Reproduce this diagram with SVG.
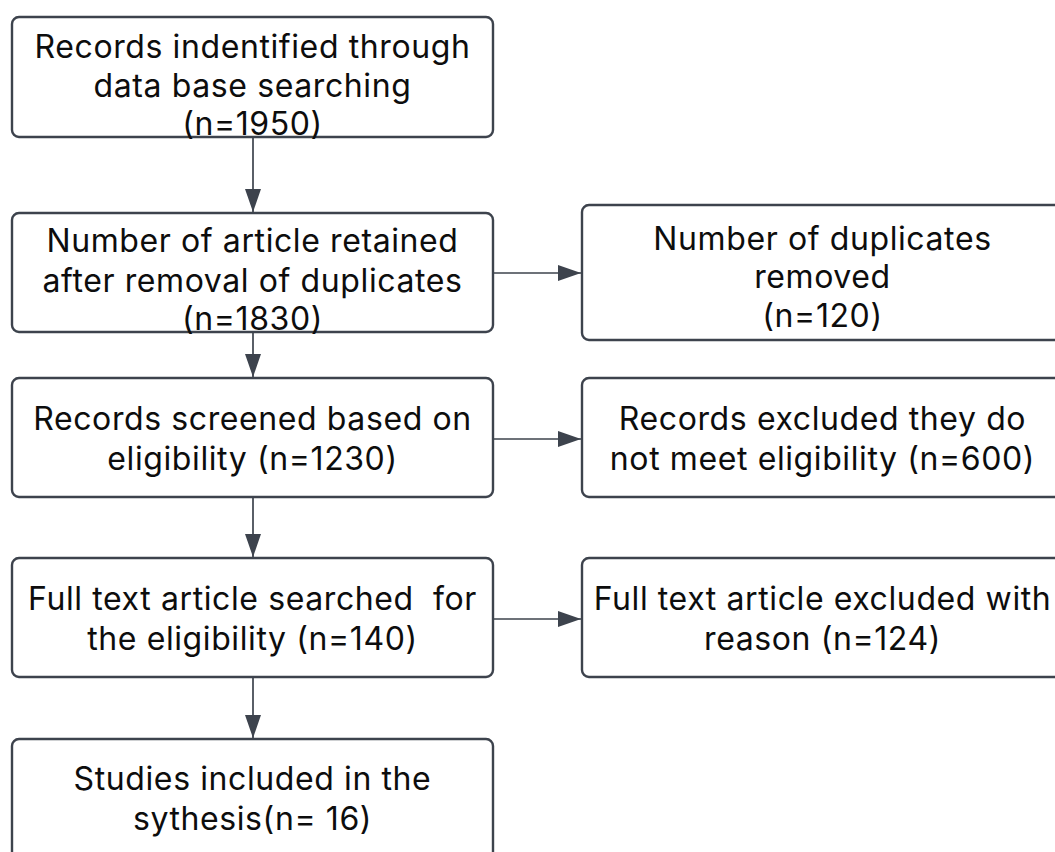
<svg xmlns="http://www.w3.org/2000/svg" width="1055" height="852" viewBox="0 0 1055 852">
<defs>
<marker id="ah" viewBox="0 0 23 16" refX="23" refY="8" markerWidth="23" markerHeight="16" markerUnits="userSpaceOnUse" orient="auto">
<path d="M0,0 L23,8 L0,16 z" fill="#3d434d"/>
</marker>
<style>
.box{fill:#ffffff;stroke:#3d434d;stroke-width:2.4}
.t{font-family:Inter,"Noto Sans","Liberation Sans",sans-serif;font-size:32px;letter-spacing:0.6px;fill:#0d0d0d;text-anchor:middle;white-space:pre}
.c{stroke:#3d434d;stroke-width:1.7;fill:none}
</style>
</defs>
<rect width="1055" height="852" fill="#ffffff"/>
<g id="n1"><rect class="box" x="12" y="17" width="481" height="120" rx="7"/>
<text class="t" x="252.5" y="58">Records indentified through</text>
<text class="t" x="252.5" y="97">data base searching</text>
<text class="t" x="252.5" y="135">(n=1950)</text></g>
<g id="n2"><rect class="box" x="12" y="213" width="481" height="119" rx="7"/>
<text class="t" x="252.5" y="252">Number of article retained</text>
<text class="t" x="252.5" y="292">after removal of duplicates</text>
<text class="t" x="252.5" y="330">(n=1830)</text></g>
<g id="n3"><rect class="box" x="582" y="205" width="481" height="135" rx="7"/>
<text class="t" x="822.5" y="250">Number of duplicates</text>
<text class="t" x="822.5" y="288">removed</text>
<text class="t" x="822.5" y="327">(n=120)</text></g>
<g id="n4"><rect class="box" x="12" y="378" width="481" height="119" rx="7"/>
<text class="t" x="252.5" y="430">Records screened based on</text>
<text class="t" x="252.5" y="470">eligibility (n=1230)</text></g>
<g id="n5"><rect class="box" x="582" y="378" width="481" height="119" rx="7"/>
<text class="t" x="822.5" y="430">Records excluded they do</text>
<text class="t" x="822.5" y="470">not meet eligibility (n=600)</text></g>
<g id="n6"><rect class="box" x="12" y="558" width="481" height="119" rx="7"/>
<text class="t" x="252.5" y="610">Full text article searched  for</text>
<text class="t" x="252.5" y="650">the eligibility (n=140)</text></g>
<g id="n7"><rect class="box" x="582" y="558" width="481" height="119" rx="7"/>
<text class="t" x="822.5" y="610">Full text article excluded with</text>
<text class="t" x="822.5" y="650">reason (n=124)</text></g>
<g id="n8"><rect class="box" x="12" y="739" width="481" height="130" rx="7"/>
<text class="t" x="252.5" y="790">Studies included in the</text>
<text class="t" x="252.5" y="830">sythesis(n= 16)</text></g>
<g id="connectors">
<line class="c" x1="253" y1="137" x2="253" y2="212" marker-end="url(#ah)"/>
<line class="c" x1="253" y1="332" x2="253" y2="377" marker-end="url(#ah)"/>
<line class="c" x1="253" y1="497" x2="253" y2="557" marker-end="url(#ah)"/>
<line class="c" x1="253" y1="677" x2="253" y2="738" marker-end="url(#ah)"/>
<line class="c" x1="493" y1="273" x2="581" y2="273" marker-end="url(#ah)"/>
<line class="c" x1="493" y1="439" x2="581" y2="439" marker-end="url(#ah)"/>
<line class="c" x1="493" y1="619" x2="581" y2="619" marker-end="url(#ah)"/>
</g>
</svg>
